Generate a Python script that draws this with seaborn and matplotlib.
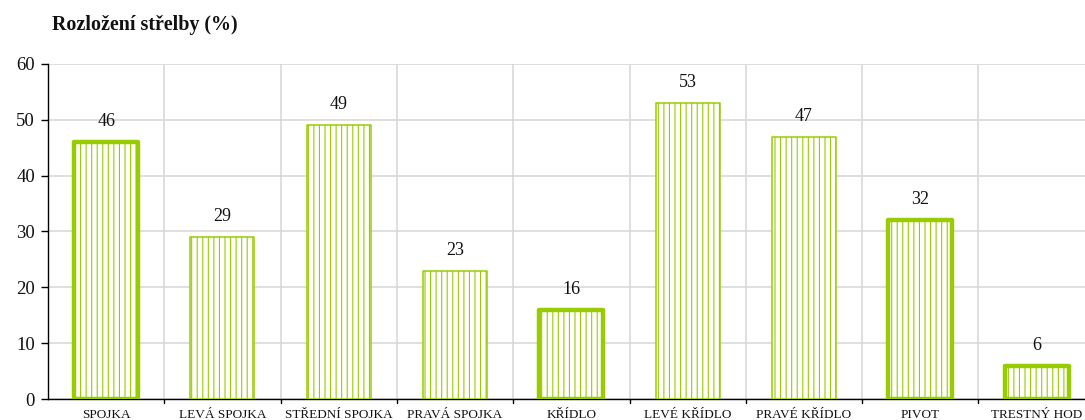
import matplotlib
matplotlib.use("Agg")
import matplotlib.pyplot as plt
import seaborn as sns
import pandas as pd

categories = ["SPOJKA", "LEVÁ SPOJKA", "STŘEDNÍ SPOJKA", "PRAVÁ SPOJKA", "KŘÍDLO",
              "LEVÉ KŘÍDLO", "PRAVÉ KŘÍDLO", "PIVOT", "TRESTNÝ HOD"]
values = [46, 29, 49, 23, 16, 53, 47, 32, 6]
thick = [True, False, False, False, True, False, False, True, True]

sns.set_theme(style="white")
plt.rcParams['font.family'] = ['Liberation Serif', 'DejaVu Serif']
plt.rcParams['hatch.linewidth'] = 0.8
plt.rcParams['hatch.color'] = '#99CC00'

GREEN = '#99CC00'

fig = plt.figure(figsize=(10.85, 4.2), dpi=100)
ax = fig.add_axes([48/1085, 21/420, (9*116.3)/1085, (399-64)/420])

df = pd.DataFrame({"cat": categories, "val": values})
sns.barplot(data=df, x="cat", y="val", ax=ax, color="white", edgecolor=GREEN,
            width=0.55, hatch='|||', saturation=1, zorder=3)

for p, t in zip(ax.patches, thick):
    p.set_facecolor("white")
    p.set_edgecolor(GREEN)
    p.set_linewidth(3.2 if t else 1.1)
    p.set_joinstyle('round')

for i, v in enumerate(values):
    ax.annotate(str(v), (i, v), xytext=(0, 11.5), textcoords="offset points",
                ha="center", va="baseline", fontsize=13, color="#111111")

ax.set_ylim(0, 60)
ax.set_xlim(-0.5, 8.5)
ax.set_yticks(range(0, 61, 10))
ax.set_xticks(range(len(categories)))
ax.set_xticklabels(categories, fontsize=9.5, color="#111111")
ax.tick_params(axis='y', labelsize=13.5, length=5, width=1, color='black', left=True,
               pad=4.3, labelcolor="#111111")
ax.tick_params(axis='x', length=0, pad=13.5)
plt.setp(ax.get_xticklabels(), va='baseline')
ax.set_xlabel("")
ax.set_ylabel("")

# horizontal grid
ax.yaxis.grid(True, color="#d6d6d6", linewidth=1.1, zorder=0)
# vertical grid at category boundaries + boundary ticks
for b in range(1, 9):
    ax.axvline(b - 0.5, color="#d6d6d6", linewidth=1.1, zorder=0)
    ax.plot([b - 0.5, b - 0.5], [0, -0.7], color="black", lw=1, clip_on=False, zorder=4)
ax.set_axisbelow(True)

for s in ["top", "right"]:
    ax.spines[s].set_visible(False)
ax.spines["left"].set_color("black")
ax.spines["bottom"].set_color("black")
ax.spines["left"].set_linewidth(1)
ax.spines["bottom"].set_linewidth(1)

fig.text(52/1085, 1 - 30/420, "Rozložení střelby (%)", fontsize=14.4, fontweight="bold",
         ha="left", va="baseline", color="#111111")

fig.savefig("out.png", dpi=100)
